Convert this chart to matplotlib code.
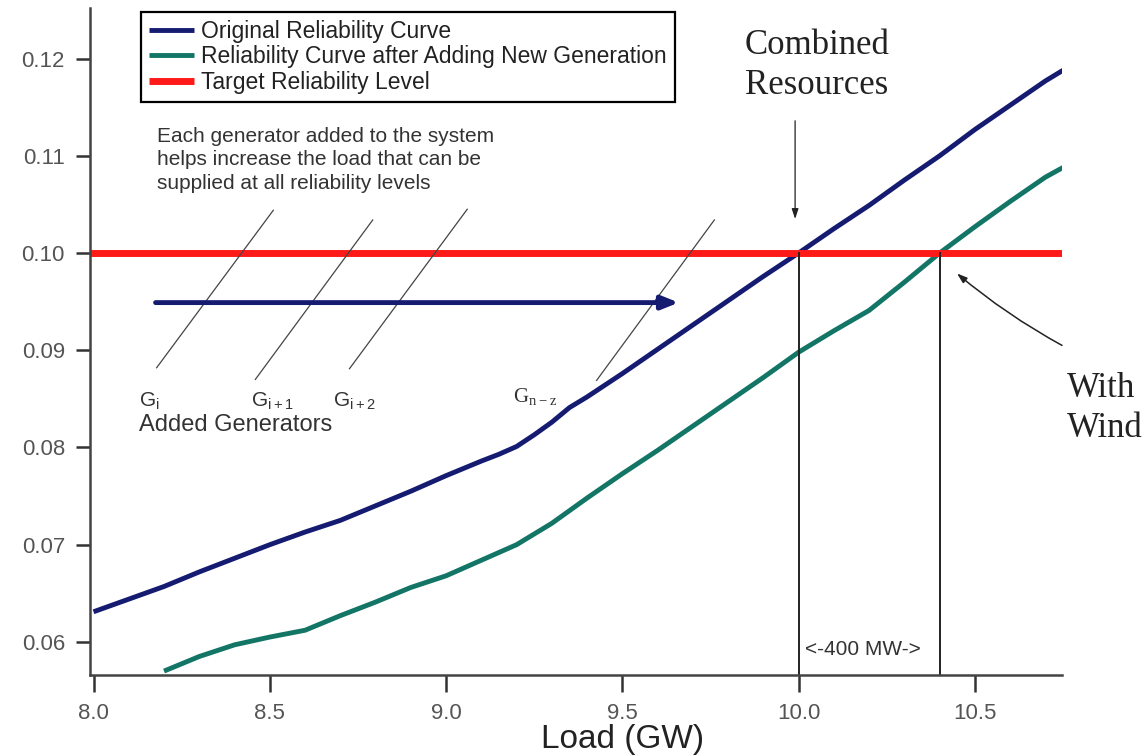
import matplotlib
matplotlib.use("Agg")
import matplotlib.pyplot as plt

plt.rcParams["font.family"] = ["Liberation Sans", "DejaVu Sans"]
plt.rcParams["mathtext.fontset"] = "custom"
plt.rcParams["mathtext.rm"] = "Liberation Sans"

# --- data ---
load_orig = [8.0, 8.1, 8.2, 8.3, 8.4, 8.5, 8.6, 8.7, 8.8, 8.9, 9.0, 9.1, 9.15, 9.2, 9.25,
             9.3, 9.35, 9.4, 9.5, 9.6, 9.7, 9.8, 9.9, 10.0, 10.1, 10.2, 10.3, 10.4,
             10.5, 10.6, 10.7, 10.75]
rel_orig = [0.0631, 0.0644, 0.0657, 0.0672, 0.0686, 0.0700, 0.0713, 0.0725, 0.0740,
            0.0755, 0.0771, 0.0786, 0.0793, 0.0801, 0.0813, 0.0826, 0.0841, 0.0852,
            0.0876, 0.0901, 0.0926, 0.0951, 0.0976, 0.1000, 0.1025, 0.1049, 0.1075,
            0.1100, 0.1127, 0.1152, 0.1177, 0.1188]

load_new = [8.2, 8.3, 8.4, 8.5, 8.6, 8.7, 8.8, 8.9, 9.0, 9.1, 9.2, 9.3, 9.4, 9.5, 9.6,
            9.7, 9.8, 9.9, 10.0, 10.1, 10.2, 10.3, 10.4, 10.5, 10.6, 10.7, 10.75]
rel_new = [0.0570, 0.0585, 0.0597, 0.0605, 0.0612, 0.0627, 0.0641, 0.0656, 0.0668,
           0.0684, 0.0700, 0.0722, 0.0748, 0.0773, 0.0797, 0.0822, 0.0847, 0.0872,
           0.0898, 0.0920, 0.0941, 0.0970, 0.1000, 0.1027, 0.1053, 0.1078, 0.1088]

target_level = 0.10
target_span = [7.99, 10.75]
crossings = [10.0, 10.4]          # original / with-wind load at target level

# thin "added generator" strokes: (x0, y0, x1, y1)
gen_strokes = [(8.179, 0.0882, 8.510, 0.1044),
               (8.459, 0.0870, 8.792, 0.1034),
               (8.726, 0.0881, 9.060, 0.1045),
               (9.427, 0.0869, 9.761, 0.1034)]
gen_labels = [(8.128, r"$\mathregular{G_{i}}$"),
              (8.448, r"$\mathregular{G_{i+1}}$"),
              (8.680, r"$\mathregular{G_{i+2}}$")]

xticks = [8.0, 8.5, 9.0, 9.5, 10.0, 10.5]
yticks = [0.06, 0.07, 0.08, 0.09, 0.10, 0.11, 0.12]

NAVY = "#151b70"
TEAL = "#127566"
RED = "#ff1a1a"

fig = plt.figure(figsize=(11.45, 7.55), dpi=100)
ax = fig.add_axes([0.0786, 0.106, 0.9275 - 0.0786, 0.9894 - 0.106])

ax.plot(load_orig, rel_orig, color=NAVY, lw=3.5, label="Original Reliability Curve",
        solid_capstyle="butt")
ax.plot(load_new, rel_new, color=TEAL, lw=3.5,
        label="Reliability Curve after Adding New Generation", solid_capstyle="butt")
ax.plot(target_span, [target_level, target_level], color=RED, lw=5,
        label="Target Reliability Level", solid_capstyle="butt")

for xc in crossings:
    ax.plot([xc, xc], [0.0566, target_level], color="#222222", lw=1.4)

for x0, y0, x1, y1 in gen_strokes:
    ax.plot([x0, x1], [y0, y1], color="#444444", lw=0.9)

# blue "more load" arrow
ax.annotate("", xy=(9.66, 0.0949), xytext=(8.176, 0.0949),
            arrowprops=dict(arrowstyle="-|>,head_length=1.0,head_width=0.4",
                            color=NAVY, lw=3.5, shrinkA=0, shrinkB=0))

ax.set_xlim(7.99, 10.747)
ax.set_ylim(0.0566, 0.1252)
ax.set_xticks(xticks)
ax.set_xticklabels([f"{t:.1f}" for t in xticks])
ax.set_yticks(yticks)
ax.set_yticklabels([f"{t:.2f}" for t in yticks])

for s in ("top", "right"):
    ax.spines[s].set_visible(False)
for s in ("left", "bottom"):
    ax.spines[s].set_color("#444444")
    ax.spines[s].set_linewidth(1.8)
ax.tick_params(axis="x", length=12, width=1.8, color="#333333", pad=8,
               labelsize=16, labelcolor="#555555")
ax.tick_params(axis="y", length=10, width=1.8, color="#333333", pad=8,
               labelsize=16, labelcolor="#555555")

leg = ax.legend(loc="upper left", bbox_to_anchor=(0.052, 0.994), borderaxespad=0,
                fontsize=16.5, frameon=True, fancybox=False, framealpha=1,
                handlelength=2.0, handletextpad=0.3, labelspacing=0.1,
                borderpad=0.35)
leg.get_frame().set_edgecolor("black")
leg.get_frame().set_linewidth(1.6)
for t in leg.get_texts():
    t.set_color("#222222")

ax.text(8.181, 0.1130, "Each generator added to the system\n"
        "helps increase the load that can be\nsupplied at all reliability levels",
        ha="left", va="top", fontsize=15, color="#333333", linespacing=1.3)

for gx, lab in gen_labels:
    ax.text(gx, 0.0847, lab, ha="left", va="center", fontsize=15, color="#333333")
ax.text(9.19, 0.0852, r"$\mathregular{G_{n-z}}$", ha="left", va="center", fontsize=15,
        color="#333333", family="Liberation Serif")
ax.text(8.128, 0.0823, "Added Generators", ha="left", va="center", fontsize=17,
        color="#333333")

serif = dict(family="Liberation Serif", fontsize=25, color="#222222", linespacing=1.3)
ax.text(9.848, 0.1193, "Combined\nResources", ha="left", va="center", **serif)
ax.annotate("", xy=(9.99, 0.1035), xytext=(9.99, 0.1136),
            arrowprops=dict(arrowstyle="-|>,head_length=0.6,head_width=0.2",
                            color="#222222", lw=0.9, shrinkA=0, shrinkB=0))
ax.text(10.761, 0.0840, "With\nWind", ha="left", va="center", clip_on=False, **serif)
ax.annotate("", xy=(10.449, 0.0979), xytext=(10.747, 0.0905),
            arrowprops=dict(arrowstyle="-|>,head_length=0.6,head_width=0.2",
                            color="#222222", lw=1.1, shrinkA=0, shrinkB=0,
                            connectionstyle="arc3,rad=-0.05"),
            annotation_clip=False)

ax.text(10.018, 0.0592, "<-400 MW->", ha="left", va="center", fontsize=15,
        color="#333333")

fig.text(0.544, 0.009, "Load (GW)", ha="center", va="baseline", fontsize=24,
         color="#222222")

fig.savefig("out.png", dpi=100)
